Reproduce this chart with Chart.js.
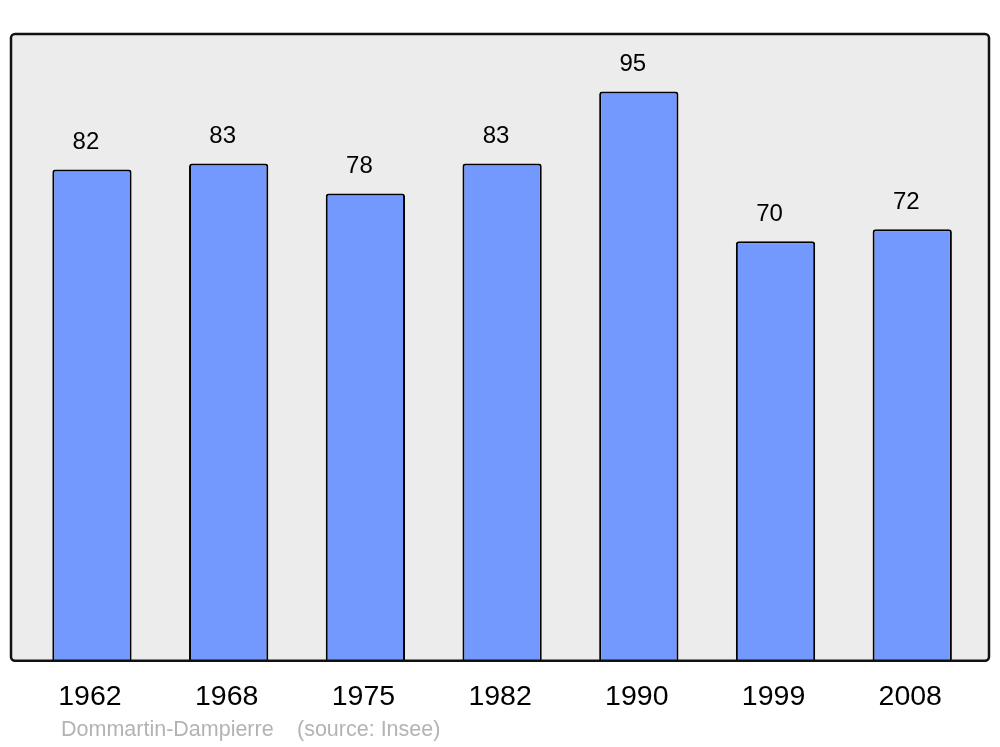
<!DOCTYPE html>
<html>
<head>
<meta charset="utf-8">
<script src="https://cdn.jsdelivr.net/npm/chart.js@4"></script>
<style>
  html, body { margin: 0; padding: 0; background: #ffffff; }
  #chart { display: block; }
</style>
</head>
<body>
<canvas id="chart" width="1000" height="747"></canvas>
<script>
const years = ['1962', '1968', '1975', '1982', '1990', '1999', '2008'];
const population = [82, 83, 78, 83, 95, 70, 72];
const townName = 'Dommartin-Dampierre';
const sourceText = '(source: Insee)';

// fond gris + cadre autour de la zone du graphique
const frameBox = {
    id: 'frameBox',
    beforeDatasetsDraw(chart) {
        const { ctx, chartArea } = chart;
        const left = chartArea.left - 12.6;
        const right = chartArea.right + 8.4;
        ctx.save();
        ctx.beginPath();
        ctx.roundRect(left, chartArea.top, right - left, chartArea.bottom - chartArea.top, 4);
        ctx.fillStyle = '#ececec';
        ctx.fill();
        ctx.restore();
    },
    afterDatasetsDraw(chart) {
        const { ctx, chartArea } = chart;
        const left = chartArea.left - 12.6;
        const right = chartArea.right + 8.4;
        ctx.save();
        ctx.beginPath();
        ctx.roundRect(left, chartArea.top, right - left, chartArea.bottom - chartArea.top, 4);
        ctx.lineWidth = 2.5;
        ctx.strokeStyle = '#111111';
        ctx.stroke();
        ctx.restore();
    }
};

// valeurs au-dessus des barres + texte source
const valueLabels = {
    id: 'valueLabels',
    afterDraw(chart) {
        const { ctx } = chart;
        const meta = chart.getDatasetMeta(0);
        ctx.save();
        ctx.font = '24px "Liberation Sans", Arial, sans-serif';
        ctx.fillStyle = '#000000';
        ctx.textAlign = 'center';
        ctx.textBaseline = 'middle';
        meta.data.forEach((bar, i) => {
            ctx.fillText(String(population[i]), bar.x - 6, bar.y - 27);
        });

        ctx.font = '21.5px "Liberation Sans", Arial, sans-serif';
        ctx.fillStyle = '#b3b3b3';
        ctx.textAlign = 'left';
        ctx.fillText(townName, 61, 730);
        ctx.fillText(sourceText, 297, 730);
        ctx.restore();
    }
};

new Chart(document.getElementById('chart'), {
    type: 'bar',
    data: {
        labels: years,
        datasets: [{
            data: population,
            backgroundColor: '#7399ff',
            borderColor: '#000000',
            borderWidth: 2,
            borderSkipped: 'bottom',
            borderRadius: { topLeft: 3, topRight: 3, bottomLeft: 0, bottomRight: 0 },
            categoryPercentage: 1,
            barPercentage: 0.58
        }]
    },
    options: {
        responsive: false,
        animation: false,
        layout: {
            padding: { left: 23.6, right: 19.4, top: 34, bottom: 22 }
        },
        scales: {
            x: {
                grid: { display: false },
                border: { display: false },
                ticks: {
                    color: '#000000',
                    padding: 11,
                    labelOffset: -2,
                    font: { family: '"Liberation Sans", Arial, sans-serif', size: 28.5 }
                }
            },
            y: {
                display: false,
                min: 0,
                max: 104.6
            }
        },
        plugins: {
            legend: { display: false },
            tooltip: { enabled: false }
        }
    },
    plugins: [frameBox, valueLabels]
});
</script>
</body>
</html>
